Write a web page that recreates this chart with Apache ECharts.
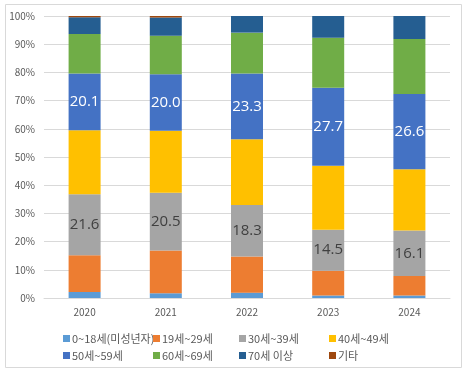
<!DOCTYPE html>
<html><head><meta charset="utf-8">
<script src="https://cdn.jsdelivr.net/npm/echarts@6/dist/echarts.min.js"></script>
<style>html,body{margin:0;padding:0;background:#fff}#c{width:467px;height:376px}</style>
</head><body><div id="c"></div>
<script>
const categories = ['2020','2021','2022','2023','2024'];
const seriesNames = ['0~18세(미성년자)','19세~29세','30세~39세','40세~49세','50세~59세','60세~69세','70세 이상','기타'];
const age0_18  = [2.1, 1.7, 1.9, 0.9, 0.9];
const age19_29 = [13.1, 15.1, 12.8, 8.8, 6.9];
const age30_39 = [21.6, 20.5, 18.3, 14.5, 16.1];
const age40_49 = [22.7, 22.0, 23.3, 22.7, 21.8];
const age50_59 = [20.1, 20.0, 23.3, 27.7, 26.6];
const age60_69 = [14.0, 13.7, 14.5, 17.7, 19.5];
const age70    = [6.0, 6.5, 5.9, 7.7, 8.2];
const other    = [0.4, 0.5, 0.0, 0.0, 0.0];
const yTicks = [0,10,20,30,40,50,60,70,80,90,100];

const values = [age0_18, age19_29, age30_39, age40_49, age50_59, age60_69, age70, other];
const colors = ['#5B9BD5','#ED7D31','#A5A5A5','#FFC000','#4472C4','#70AD47','#255E91','#9E480E'];
const labelled = {2:'#404040', 4:'#ffffff'};
const font = '"Noto Sans CJK KR", "Noto Sans", sans-serif';

const series = values.map((d,i)=>({
  name: seriesNames[i], type:'bar', stack:'s', barWidth:32, data:d,
  itemStyle:{color:colors[i]},
  label: labelled[i] ? {show:true, position:'inside', color:labelled[i], fontSize:15, fontFamily:'"Open Sans", sans-serif', formatter:p=>p.value.toFixed(1)} : {show:false},
  emphasis:{disabled:true}
}));

const colX = [58, 148, 234, 324];
const legends = colX.map((x,c)=>({
  orient:'vertical', left:x, top:328, itemGap:6, itemWidth:7, itemHeight:7,
  icon:'rect', selectedMode:false,
  data:[seriesNames[c], seriesNames[c+4]],
  textStyle:{color:'#595959', fontSize:11, fontFamily:font, padding:[0,0,0,-3]}
}));

const chart = echarts.init(document.getElementById('c'));
chart.setOption({
  animation:false,
  graphic:[{type:'rect', shape:{x:5.5,y:4.5,width:456,height:363}, style:{fill:'none', stroke:'#d9d9d9', lineWidth:1}, silent:true}],
  legend: legends,
  grid:{left:44, right:17, top:16, bottom:78},
  xAxis:{type:'category', data:categories,
    axisLine:{lineStyle:{color:'#d9d9d9'}}, axisTick:{show:false},
    axisLabel:{color:'#595959', fontSize:10, margin:9, fontFamily:font}},
  yAxis:{type:'value', min:0, max:100, interval:10,
    splitLine:{lineStyle:{color:'#d9d9d9'}},
    axisLabel:{color:'#595959', fontSize:10, margin:9, fontFamily:font, formatter:v=>yTicks.includes(v)? v+'%':''}},
  series
});
</script></body></html>
